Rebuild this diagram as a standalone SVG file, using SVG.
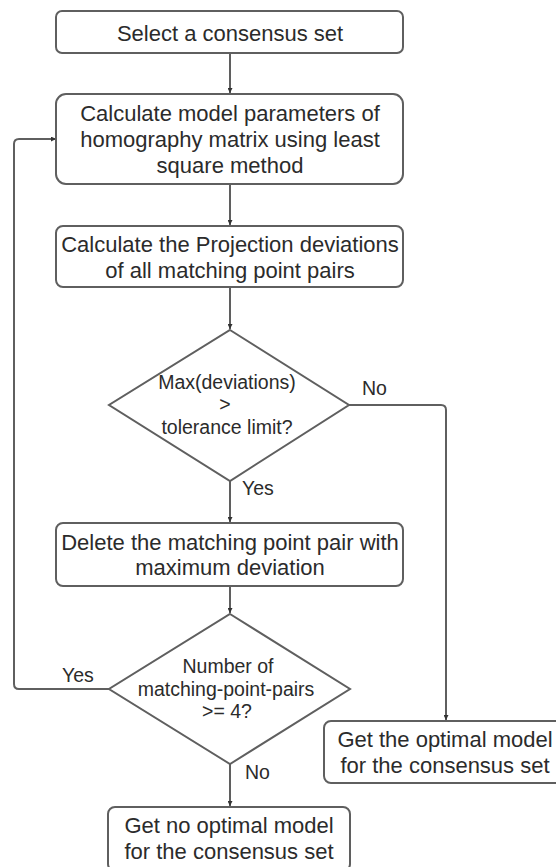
<svg xmlns="http://www.w3.org/2000/svg" width="556" height="867" viewBox="0 0 556 867">
<defs>
<style>
.box{fill:#fff;stroke:#5f5f5f;stroke-width:2}
.t{font-family:"Liberation Sans",Arial,sans-serif;font-size:22px;fill:#2b2b2b;text-anchor:middle}
.s{font-family:"Liberation Sans",Arial,sans-serif;font-size:19.5px;fill:#2b2b2b;text-anchor:middle}
.l{font-family:"Liberation Sans",Arial,sans-serif;font-size:19.5px;fill:#2b2b2b}
.c{fill:none;stroke:#5f5f5f;stroke-width:2}
</style>
<marker id="ah" viewBox="0 0 10 10" refX="10" refY="5" markerWidth="5" markerHeight="5" orient="auto" markerUnits="userSpaceOnUse">
<path d="M0,0 L10,5 L0,10 z" fill="#333"/>
</marker>
</defs>
<rect width="556" height="867" fill="#fff"/>
<g id="connectors">
<path class="c" d="M230,53 V93" marker-end="url(#ah)"/>
<path class="c" d="M230,184 V225" marker-end="url(#ah)"/>
<path class="c" d="M230,287 V329" marker-end="url(#ah)"/>
<path class="c" d="M230,481 V522" marker-end="url(#ah)"/>
<path class="c" d="M230,586 V613" marker-end="url(#ah)"/>
<path class="c" d="M230,764 V806" marker-end="url(#ah)"/>
<path class="c" d="M349,405 H441 Q446,405 446,410 V720" marker-end="url(#ah)"/>
<path class="c" d="M109,689 H19 Q14,689 14,684 V144 Q14,139 19,139 H56" marker-end="url(#ah)"/>
<text class="l" x="362" y="395">No</text>
<text class="l" x="242" y="495">Yes</text>
<text class="l" x="62" y="682">Yes</text>
<text class="l" x="245" y="779">No</text>
</g>
<g id="n1">
<rect class="box" x="56" y="11" width="347" height="42" rx="6"/>
<text class="t" x="230" y="40.5">Select a consensus set</text>
</g>
<g id="n2">
<rect class="box" x="56" y="94" width="347" height="90" rx="10"/>
<text class="t" x="230" y="120.5">Calculate model parameters of</text>
<text class="t" x="230" y="146.5">homography matrix using least</text>
<text class="t" x="230" y="172.5">square method</text>
</g>
<g id="n3">
<rect class="box" x="56" y="226" width="347" height="61" rx="7"/>
<text class="t" x="230" y="251.5">Calculate the Projection deviations</text>
<text class="t" x="230" y="277.5">of all matching point pairs</text>
</g>
<g id="d1">
<polygon class="box" points="230,330 349,405 230,481 109,405"/>
<text class="s" x="227" y="389">Max(deviations)</text>
<text class="s" x="225" y="411">&gt;</text>
<text class="s" x="227" y="434">tolerance limit?</text>
</g>
<g id="n4">
<rect class="box" x="56" y="523" width="347" height="63" rx="7"/>
<text class="t" x="230" y="549.5">Delete the matching point pair with</text>
<text class="t" x="230" y="575">maximum deviation</text>
</g>
<g id="d2">
<polygon class="box" points="230,614 350,689 230,764 109,689"/>
<text class="s" x="228" y="672.5">Number of</text>
<text class="s" x="226" y="695.5">matching-point-pairs</text>
<text class="s" x="227" y="717.5">&gt;= 4?</text>
</g>
<g id="n5">
<rect class="box" x="324" y="721" width="245" height="62" rx="7"/>
<text class="t" x="445" y="746.5">Get the optimal model</text>
<text class="t" x="445" y="772.5">for the consensus set</text>
</g>
<g id="n6">
<rect class="box" x="108" y="807" width="242" height="64" rx="7"/>
<text class="t" x="229" y="833">Get no optimal model</text>
<text class="t" x="229" y="859">for the consensus set</text>
</g>
</svg>
